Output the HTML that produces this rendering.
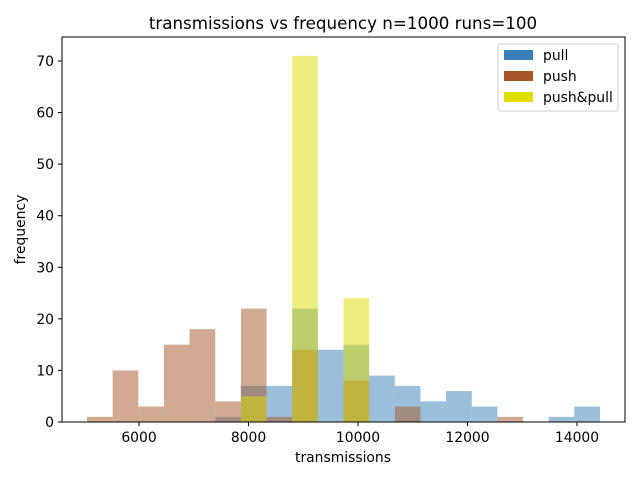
<!DOCTYPE html>
<html><head><meta charset="utf-8"><style>
body{margin:0;background:#fff;}
svg{display:block;font-family:"DejaVu Sans","Liberation Sans",sans-serif;}
</style></head><body>
<svg id="chart" width="640" height="480">
<text x="343" y="29" font-size="16.7" text-anchor="middle" fill="#000">transmissions vs frequency n=1000 runs=100</text>
<g id="bars"></g>
<rect x="62" y="37" width="563" height="385" fill="none" stroke="#000" stroke-width="1"/>
<g id="axes"></g>
<text x="343" y="462" font-size="13.9" text-anchor="middle">transmissions</text>
<text x="25" y="229.5" font-size="13.9" text-anchor="middle" transform="rotate(-90 25 229.5)">frequency</text>
<g>
<rect x="498" y="44" width="120" height="67" rx="2" fill="#fff" fill-opacity="0.8" stroke="#ccc"/>
<rect x="504" y="50" width="29" height="10" fill="#377eb8"/>
<text x="543" y="60" font-size="13.9">pull</text>
<rect x="504" y="71" width="29" height="10" fill="#a65628"/>
<text x="543" y="81" font-size="13.9">push</text>
<rect x="504" y="92" width="29" height="10" fill="#dede00"/>
<text x="543" y="102" font-size="13.9">push&amp;pull</text>
</g>
</svg>
<script>
const binStart = 5050;
const binWidth = 468.5;
const pullCounts = [0,0,0,0,0,1,7,7,22,14,15,9,7,4,6,3,0,0,1,3];
const pushCounts = [1,10,3,15,18,4,22,1,14,0,8,0,3,0,0,0,1,0,0,0];
const pushPullCounts = [0,0,0,0,0,0,5,0,71,0,24,0,0,0,0,0,0,0,0,0];
const xTicks = [6000,8000,10000,12000,14000];
const yTicks = [0,10,20,30,40,50,60,70];

const NS = "http://www.w3.org/2000/svg";
function xs(v){ return 139 + (v - 6000) * (109.5/2000); }
function ys(v){ return 422 - v * (361/70); }
const bars = document.getElementById('bars');
function drawSeries(counts, color, name){
  counts.forEach((c,i)=>{
    if(c<=0) return;
    const x0 = xs(binStart + i*binWidth), x1 = xs(binStart + (i+1)*binWidth);
    const r = document.createElementNS(NS,'rect');
    r.setAttribute('x', x0); r.setAttribute('width', x1-x0);
    r.setAttribute('y', ys(c)); r.setAttribute('height', ys(0)-ys(c));
    r.setAttribute('fill', color); r.setAttribute('fill-opacity', 0.5);
    
    
    bars.appendChild(r);
  });
}
drawSeries(pullCounts, '#377eb8', 'pull');
drawSeries(pushCounts, '#a65628', 'push');
drawSeries(pushPullCounts, '#dede00', 'push-pull');

const axes = document.getElementById('axes');
xTicks.forEach(t=>{
  const x = xs(t);
  const l = document.createElementNS(NS,'line');
  l.setAttribute('x1',x); l.setAttribute('x2',x); l.setAttribute('y1',422); l.setAttribute('y2',426);
  l.setAttribute('stroke','#000');
  
  
  axes.appendChild(l);
  const tx = document.createElementNS(NS,'text');
  tx.setAttribute('x',x); tx.setAttribute('y',442); tx.setAttribute('font-size','13.9');
  tx.setAttribute('text-anchor','middle'); tx.textContent = t;
  
  
  axes.appendChild(tx);
});
yTicks.forEach(t=>{
  const y = ys(t);
  const l = document.createElementNS(NS,'line');
  l.setAttribute('x1',58); l.setAttribute('x2',62); l.setAttribute('y1',y); l.setAttribute('y2',y);
  l.setAttribute('stroke','#000');
  
  
  axes.appendChild(l);
  const tx = document.createElementNS(NS,'text');
  tx.setAttribute('x',54); tx.setAttribute('y',y+5); tx.setAttribute('font-size','13.9');
  tx.setAttribute('text-anchor','end'); tx.textContent = t;
  
  
  axes.appendChild(tx);
});
</script>
</body></html>
